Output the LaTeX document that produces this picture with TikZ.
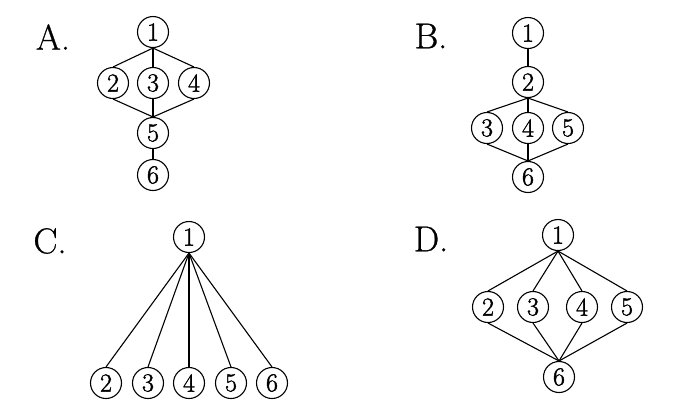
\documentclass[tikz,border=0pt]{standalone}
\usepackage{fontspec}
\newfontfamily\digfont[FakeBold=1.5]{Latin Modern Roman}
\newfontfamily\labfont[FakeBold=0.8]{Latin Modern Roman}
\begin{document}
\begin{tikzpicture}[x=1pt,y=-1pt,
  nd/.style={circle,draw,line width=1.1pt,minimum size=31pt,inner sep=0pt,font=\digfont\fontsize{26}{26}\selectfont},
  lab/.style={font=\labfont\fontsize{36}{36}\selectfont,inner sep=0pt},
  ed/.style={line width=1.1pt}]
\useasboundingbox (0,0) rectangle (685,408);
% A
\node[lab] (la) at (53,37) {A.};
\node[nd] (a1) at (153,32) {1};
\node[nd] (a2) at (113,83) {2};
\node[nd] (a3) at (153,83) {3};
\node[nd] (a4) at (194,83) {4};
\node[nd] (a5) at (153,133) {5};
\node[nd] (a6) at (153,175) {6};
\draw[ed] (a1.south) -- (a2.north);
\draw[ed] (a1.south) -- (a3.north);
\draw[ed] (a1.south) -- (a4.north);
\draw[ed] (a2.south) -- (a5.north);
\draw[ed] (a3.south) -- (a5.north);
\draw[ed] (a4.south) -- (a5.north);
\draw[ed] (a5) -- (a6);
% B
\node[lab] (lb) at (431,36) {B.};
\node[nd] (b1) at (528,33) {1};
\node[nd] (b2) at (528,82) {2};
\node[nd] (b3) at (487,128) {3};
\node[nd] (b4) at (528,128) {4};
\node[nd] (b5) at (568,128) {5};
\node[nd] (b6) at (528,177) {6};
\draw[ed] (b1) -- (b2);
\draw[ed] (b2.south) -- (b3.north);
\draw[ed] (b2.south) -- (b4.north);
\draw[ed] (b2.south) -- (b5.north);
\draw[ed] (b3.south) -- (b6.north);
\draw[ed] (b4.south) -- (b6.north);
\draw[ed] (b5.south) -- (b6.north);
% C
\node[lab] (lc) at (50,241) {C.};
\node[nd] (c1) at (189,237) {1};
\node[nd] (c2) at (106,383) {2};
\node[nd] (c3) at (148,383) {3};
\node[nd] (c4) at (189,383) {4};
\node[nd] (c5) at (231,383) {5};
\node[nd] (c6) at (272,383) {6};
\foreach \k in {2,...,6} \draw[ed] (c1.south) -- (c\k.north);
% D
\node[lab] (ld) at (431,239) {D.};
\node[nd] (d1) at (558,235) {1};
\node[nd] (d2) at (488,307) {2};
\node[nd] (d3) at (533,307) {3};
\node[nd] (d4) at (582,307) {4};
\node[nd] (d5) at (627,307) {5};
\node[nd] (d6) at (559,377) {6};
\foreach \k in {2,...,5} {
  \draw[ed] (d1.south) -- (d\k.north);
  \draw[ed] (d\k.south) -- (d6.north);
}
\end{tikzpicture}
\end{document}
